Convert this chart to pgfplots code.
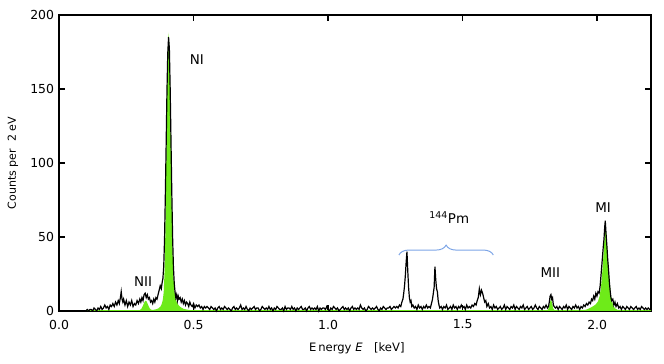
\documentclass[border=0pt]{standalone}
\usepackage{fontspec}
\setmainfont{DejaVu Sans}
\usepackage{pgfplots}
\pgfplotsset{compat=1.18}
\usetikzlibrary{decorations.pathreplacing}
\definecolor{fitgreen}{RGB}{110,235,25}
\definecolor{bracecol}{RGB}{125,165,230}

\begin{document}
\begin{tikzpicture}
\begin{axis}[
    scale only axis,
    width=419pt, height=209.5pt,
    xmin=0, xmax=2.2, ymin=0, ymax=200,
    xtick={0,0.5,1,1.5,2}, ytick={0,50,100,150,200},
    tick align=inside, tick pos=both,
    major tick length=4.2pt,
    axis line style={line width=1.2pt},
    every tick/.style={line width=1pt, black},
    /pgf/number format/assume math mode=true,
    xticklabel style={font=\fontsize{8.8}{10}\selectfont, yshift=-2.8pt,
        /pgf/number format/fixed, /pgf/number format/precision=1,
        /pgf/number format/fixed zerofill},
    yticklabel style={font=\fontsize{8.8}{10}\selectfont},
    xlabel={E\,nergy \textit{E}\quad[keV]},
    ylabel={Counts per\ \ 2 eV},
    xlabel style={font=\fontsize{8.2}{9}\selectfont, anchor=center, at={(rel axis cs:0.503,-0.125)}},
    ylabel style={font=\fontsize{7.8}{9}\selectfont, anchor=center, at={(rel axis cs:-0.0778,0.5)}},
    clip=false,
]
% fitted peaks
\addplot[draw=none, fill=fitgreen] coordinates {
(0.100,0.5) (0.300,0.6) (0.306,1.5) (0.310,2.8) (0.314,4.5) (0.318,6.2) (0.322,7)
(0.326,6.2) (0.330,4.5) (0.334,2.8) (0.338,1.5) (0.344,0.7) (0.352,0.8) (0.362,1.2)
(0.370,1.8) (0.376,2.8) (0.380,4) (0.383,5.5) (0.386,8) (0.389,13) (0.392,26)
(0.395,52) (0.398,95) (0.401,140) (0.404,175) (0.407,188) (0.410,178) (0.413,148)
(0.416,108) (0.419,68) (0.422,40) (0.425,24) (0.428,15) (0.431,10) (0.435,7)
(0.440,5) (0.446,3.5) (0.453,2.4) (0.462,1.5) (0.475,0.9) (0.490,0.6)
(1.815,0.6) (1.820,2) (1.824,5.5) (1.828,8) (1.832,5.5) (1.836,2) (1.841,0.6)
(1.955,0.7) (1.965,1.3) (1.975,2.2) (1.985,3.2) (1.995,4.5) (2.003,6.5) (2.009,10)
(2.014,16) (2.018,24) (2.022,34) (2.025,42) (2.028,52) (2.030,58) (2.032,56)
(2.035,48) (2.039,38) (2.043,28) (2.047,18) (2.051,11) (2.055,6.5) (2.060,3.5)
(2.066,1.8) (2.075,0.8) (2.090,0.6) (2.200,0.6)
} \closedcycle;
% measured spectrum
\addplot[black, line width=0.85pt] coordinates {
(0.095,0) (0.100,0) (0.105,1) (0.110,0) (0.115,1) (0.120,1) (0.125,0) (0.130,2)
(0.135,1) (0.140,0) (0.145,2) (0.150,1) (0.155,3) (0.160,1) (0.165,2) (0.170,4)
(0.175,2) (0.180,3) (0.185,1) (0.190,4) (0.195,3) (0.200,5) (0.205,3) (0.210,6)
(0.215,4) (0.220,7) (0.224,5) (0.228,9) (0.231,13) (0.234,8) (0.237,6) (0.240,8)
(0.245,4) (0.250,7) (0.255,3) (0.260,6) (0.265,4) (0.270,7) (0.275,3) (0.280,5)
(0.285,4) (0.290,7) (0.295,5) (0.300,8) (0.304,6) (0.308,9) (0.312,7) (0.316,11)
(0.320,12) (0.324,9) (0.328,11) (0.332,8) (0.336,9) (0.340,6) (0.344,7) (0.348,5)
(0.352,8) (0.356,6) (0.360,9) (0.364,8) (0.368,11) (0.372,14) (0.376,17) (0.380,15)
(0.383,19) (0.386,22) (0.389,30) (0.392,48) (0.395,78) (0.398,112) (0.401,148)
(0.404,174) (0.407,185) (0.410,177) (0.413,150) (0.416,115) (0.419,80) (0.422,50)
(0.425,30) (0.428,19) (0.431,13) (0.434,9) (0.437,11) (0.440,7) (0.443,10) (0.446,8)
(0.450,9) (0.454,6) (0.458,8) (0.462,5) (0.466,7) (0.470,4) (0.474,6) (0.478,5)
(0.482,3) (0.486,6) (0.490,4) (0.495,3) (0.500,5) (0.505,2) (0.510,4) (0.515,3)
(0.520,4) (0.525,2) (0.530,3) (0.535,1) (0.540,3) (0.545,2) (0.550,3)
(0.555,2) (0.560,1) (0.565,3) (0.570,2) (0.575,1) (0.580,2) (0.585,0) (0.590,2)
(0.595,3) (0.600,1) (0.605,2) (0.610,1) (0.615,3) (0.620,2) (0.625,1) (0.630,2)
(0.635,1) (0.640,0) (0.645,2) (0.650,3) (0.655,1) (0.660,2) (0.665,1) (0.670,2)
(0.675,4) (0.680,1) (0.685,2) (0.690,1) (0.695,3) (0.700,1) (0.705,0) (0.710,2)
(0.715,1) (0.720,2) (0.725,3) (0.730,1) (0.735,2) (0.740,2) (0.745,0) (0.750,1)
(0.755,3) (0.760,2) (0.765,1) (0.770,2) (0.775,1) (0.780,3) (0.785,1) (0.790,2)
(0.795,0) (0.800,2) (0.805,1) (0.810,3) (0.815,2) (0.820,1) (0.825,1) (0.830,2)
(0.835,0) (0.840,3) (0.845,1) (0.850,2) (0.855,2) (0.860,1) (0.865,3) (0.870,1)
(0.875,2) (0.880,0) (0.885,2) (0.890,1) (0.895,2) (0.900,3) (0.905,1) (0.910,1)
(0.915,2) (0.920,0) (0.925,2) (0.930,3) (0.935,1) (0.940,2) (0.945,1) (0.950,2)
(0.955,1) (0.960,3) (0.965,0) (0.970,2) (0.975,1) (0.980,2) (0.985,2) (0.990,1)
(0.995,3) (1.000,1) (1.005,0) (1.010,2) (1.015,1) (1.020,3) (1.025,2) (1.030,1)
(1.035,2) (1.040,0) (1.045,1) (1.050,2) (1.055,3) (1.060,1) (1.065,2) (1.070,1)
(1.075,2) (1.080,0) (1.085,2) (1.090,3) (1.095,1) (1.100,2) (1.105,1) (1.110,2)
(1.115,1) (1.120,4) (1.125,2) (1.130,1) (1.135,2) (1.140,0) (1.145,1) (1.150,3)
(1.155,2) (1.160,1) (1.165,2) (1.170,1) (1.175,2) (1.180,3) (1.185,1) (1.190,0)
(1.195,2) (1.200,1) (1.205,3) (1.210,2) (1.215,1) (1.220,2) (1.225,2) (1.230,3)
(1.235,1) (1.240,2) (1.245,3)
(1.250,2) (1.255,3) (1.260,2) (1.265,4) (1.270,3) (1.274,6) (1.278,8) (1.281,12)
(1.284,17) (1.287,24) (1.290,33) (1.293,40) (1.296,27) (1.299,16) (1.302,9) (1.305,6)
(1.308,7) (1.311,3) (1.315,4) (1.320,2) (1.325,3) (1.330,1) (1.335,4) (1.340,2)
(1.345,3) (1.350,1) (1.355,3) (1.360,2) (1.365,4) (1.370,2) (1.375,3) (1.380,2)
(1.384,5) (1.388,8) (1.391,12) (1.394,16) (1.397,30) (1.400,21) (1.403,15) (1.406,13)
(1.409,7) (1.412,4) (1.415,2) (1.420,3) (1.425,1) (1.430,3) (1.435,2) (1.440,4)
(1.445,1) (1.450,2) (1.455,3) (1.460,1) (1.465,4) (1.470,2) (1.475,3) (1.480,1)
(1.485,3) (1.490,2) (1.495,4) (1.500,2) (1.505,3) (1.510,1) (1.515,4) (1.520,2)
(1.525,3) (1.530,2) (1.535,4) (1.540,3) (1.545,5) (1.550,4) (1.554,7) (1.558,9)
(1.562,15) (1.566,11) (1.570,14) (1.574,12) (1.578,9) (1.582,6) (1.586,7) (1.590,3)
(1.595,5) (1.600,2) (1.605,3) (1.610,1) (1.615,4) (1.620,2) (1.625,3) (1.630,1)
(1.635,2) (1.640,3) (1.645,1) (1.650,2) (1.655,4) (1.660,1) (1.665,3) (1.670,2)
(1.675,1) (1.680,3) (1.685,2) (1.690,4) (1.695,1) (1.700,3) (1.705,2) (1.710,1)
(1.715,3) (1.720,2) (1.725,4) (1.730,1) (1.735,2) (1.740,3) (1.745,1) (1.750,2)
(1.755,3) (1.760,1) (1.765,2) (1.770,4) (1.775,2) (1.780,1) (1.785,3) (1.790,2)
(1.795,1) (1.800,3) (1.805,2) (1.810,4) (1.815,2) (1.819,3) (1.822,6) (1.825,10)
(1.828,11) (1.831,8) (1.834,9) (1.837,4) (1.840,3) (1.845,2) (1.850,3) (1.855,1)
(1.860,3) (1.865,2) (1.870,1) (1.875,3) (1.880,2) (1.885,4) (1.890,1) (1.895,3)
(1.900,2) (1.905,1) (1.910,3) (1.915,2) (1.920,4) (1.925,2) (1.930,3) (1.935,1)
(1.940,3) (1.945,2) (1.950,4) (1.955,3) (1.960,5) (1.965,4) (1.970,6) (1.975,5)
(1.979,8) (1.983,7) (1.987,10) (1.991,8) (1.995,12) (1.999,10) (2.003,13) (2.007,12)
(2.011,17) (2.015,26) (2.019,35) (2.022,42) (2.025,48) (2.028,57) (2.030,61) (2.033,52)
(2.036,44) (2.039,35) (2.042,28) (2.045,20) (2.048,14) (2.051,9) (2.054,7) (2.058,8)
(2.062,4) (2.066,6) (2.070,3) (2.075,5) (2.080,2) (2.085,3) (2.090,1) (2.095,3)
(2.100,2) (2.105,1) (2.110,3) (2.115,2) (2.120,1) (2.125,3) (2.130,2) (2.135,1)
(2.140,2) (2.145,3) (2.150,1) (2.155,2) (2.160,1) (2.165,3) (2.170,2) (2.175,1)
(2.180,2) (2.185,1) (2.190,2) (2.195,1) (2.200,1)
};
% peak labels
\node[font=\fontsize{9.5}{11}\selectfont] at (axis cs:0.512,169.6) {NI};
\node[font=\fontsize{9.5}{11}\selectfont] at (axis cs:0.312,19.6) {NII};
\node[font=\fontsize{9.5}{11}\selectfont] at (axis cs:2.022,69.6) {MI};
\node[font=\fontsize{9.5}{11}\selectfont] at (axis cs:1.826,25.7) {MII};
\node[font=\fontsize{9.5}{11}\selectfont] at (axis cs:1.45,63) {\textsuperscript{144}Pm};
\draw[bracecol, line width=0.7pt, decorate, decoration={brace, amplitude=7pt}]
    (axis cs:1.263,37.8) -- (axis cs:1.614,37.8);
\coordinate (sw) at (rel axis cs:0,0);
\coordinate (ne) at (rel axis cs:1,1);
\end{axis}
\pgfresetboundingbox
\path[use as bounding box] ([shift={(-41.8pt,-37.5pt)}]sw) rectangle ([shift={(9.2pt,10.6pt)}]ne);
\end{tikzpicture}
\end{document}
